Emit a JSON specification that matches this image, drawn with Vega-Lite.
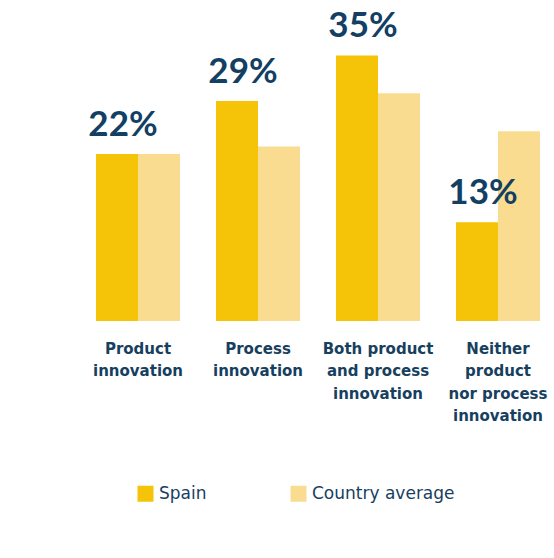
{
  "$schema": "https://vega.github.io/schema/vega-lite/v6.json",
  "autosize": "none",
  "padding": {"left": 82, "top": 0, "right": 0, "bottom": 237},
  "width": 472,
  "height": 321,
  "background": "white",
  "config": {"view": {"stroke": null}, "font": "Lato"},
  "data": {
    "values": [
      {"category": "Product innovation", "series": "Spain", "value": 22},
      {"category": "Product innovation", "series": "Country average", "value": 22},
      {"category": "Process innovation", "series": "Spain", "value": 29},
      {"category": "Process innovation", "series": "Country average", "value": 23},
      {"category": "Both product and process innovation", "series": "Spain", "value": 35},
      {"category": "Both product and process innovation", "series": "Country average", "value": 30},
      {"category": "Neither product nor process innovation", "series": "Spain", "value": 13},
      {"category": "Neither product nor process innovation", "series": "Country average", "value": 25}
    ]
  },
  "encoding": {
    "x": {
      "field": "category",
      "type": "nominal",
      "sort": null,
      "scale": {"paddingInner": 0.3, "paddingOuter": 0.1167},
      "axis": {
        "title": null,
        "domain": false,
        "ticks": false,
        "labelAngle": 0,
        "labelPadding": 20,
        "labelBaseline": "top",
        "labelAlign": "center",
        "labelFont": "DejaVu Sans",
        "labelFontWeight": "bold",
        "labelFontSize": 15,
        "labelColor": "#17405f",
        "labelLineHeight": 22.5,
        "labelLimit": 200,
        "labelExpr": "datum.value == 'Product innovation' ? ['Product', 'innovation'] : datum.value == 'Process innovation' ? ['Process', 'innovation'] : datum.value == 'Both product and process innovation' ? ['Both product', 'and process', 'innovation'] : ['Neither', 'product', 'nor process', 'innovation']"
      }
    },
    "y": {
      "field": "value",
      "type": "quantitative",
      "scale": {"domain": [0, 42.3], "nice": false},
      "axis": null
    },
    "xOffset": {"field": "series", "type": "nominal", "scale": {"domain": ["Spain", "Country average"], "paddingInner": 0, "paddingOuter": 0}}
  },
  "layer": [
    {
      "mark": {"type": "bar"},
      "encoding": {
        "color": {
          "field": "series",
          "type": "nominal",
          "scale": {"domain": ["Spain", "Country average"], "range": ["#F5C307", "#F9DC8F"]},
          "legend": {
            "title": null,
            "orient": "none",
            "direction": "horizontal",
            "legendX": 55,
            "legendY": 485,
            "symbolType": "square",
            "symbolSize": 256,
            "symbolStrokeWidth": 0,
            "labelFont": "DejaVu Sans",
            "labelFontSize": 17,
            "labelColor": "#17405f",
            "labelOffset": 5,
            "columnPadding": 83
          }
        }
      }
    },
    {
      "transform": [
        {"filter": "datum.series == 'Spain'"},
        {"calculate": "datum.value + '%'", "as": "label"}
      ],
      "mark": {"type": "text", "font": "Lato", "fontWeight": "bold", "fontSize": 35, "color": "#123f63", "baseline": "alphabetic", "dy": -18, "dx": 6},
      "encoding": {
        "text": {"field": "label", "type": "nominal"}
      }
    }
  ]
}
